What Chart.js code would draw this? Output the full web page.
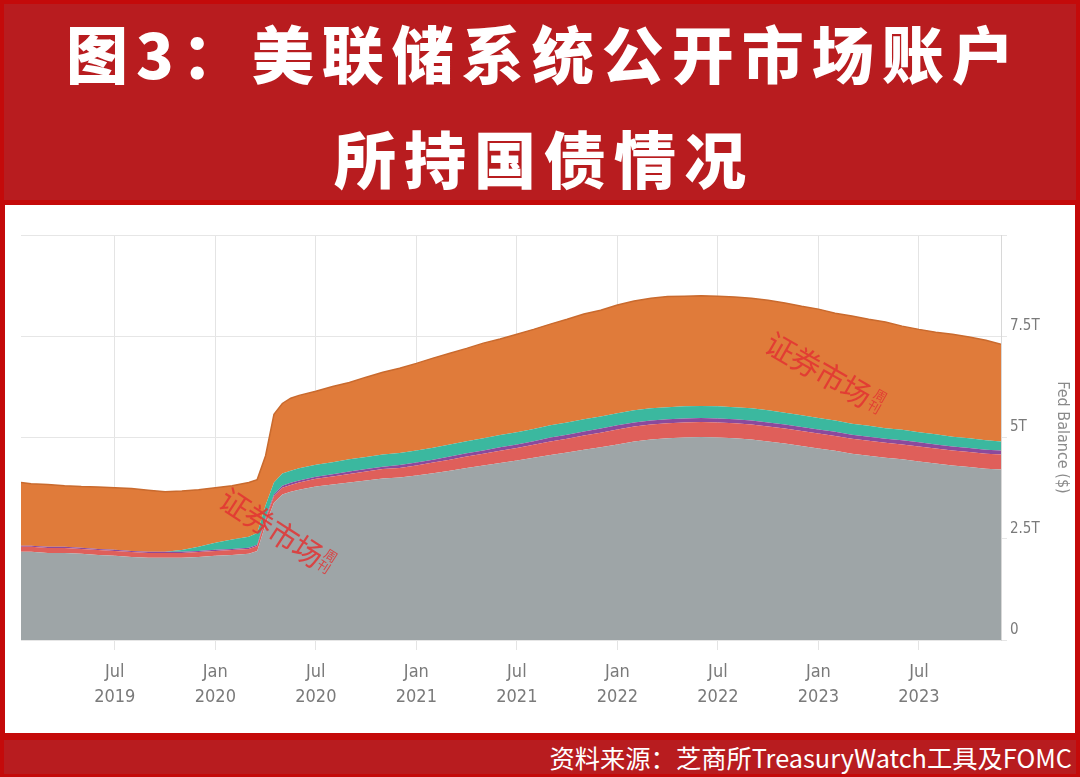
<!DOCTYPE html>
<html><head><meta charset="utf-8">
<script src="https://cdn.jsdelivr.net/npm/chart.js@4"></script>
<style>
html,body{margin:0;padding:0;}
body{width:1080px;height:777px;background:#c40a0a;position:relative;overflow:hidden;font-family:"Noto Sans CJK SC",sans-serif;}
#titlebox{position:absolute;left:4px;top:4px;width:1072px;height:196px;background:#b81c1f;}
.tl{position:absolute;left:0;width:1072px;padding-left:8px;box-sizing:border-box;text-align:center;color:#fff;font-weight:900;font-size:62px;line-height:62px;letter-spacing:8px;white-space:nowrap;}
#panel{position:absolute;left:5px;top:205px;width:1070px;height:528px;background:#fff;}
#footer{position:absolute;left:4px;top:740px;width:1072px;height:34px;background:#b81c1f;}
#src{position:absolute;right:4px;top:0;line-height:34px;color:#fff;font-size:25.3px;white-space:nowrap;}
.wm{position:absolute;color:rgba(226,50,50,0.85);font-size:30px;line-height:34px;width:124px;height:34px;text-align:center;white-space:nowrap;pointer-events:none;letter-spacing:-1px;}
.wm2{position:absolute;color:rgba(226,50,50,0.85);font-size:13px;line-height:13px;width:14px;pointer-events:none;}
</style>
</head><body>
<div id="titlebox">
  <div class="tl" style="top:17px;">图3：美联储系统公开市场账户</div>
  <div class="tl" style="top:122px;">所持国债情况</div>
</div>
<div id="panel"><canvas id="c" width="1070" height="528"></canvas></div>
<div id="footer"><div id="src">资料来源：芝商所TreasuryWatch工具及FOMC</div></div>
<div class="wm" style="left:210px;top:509px;transform:rotate(33deg);">证券市场</div>
<div class="wm2" style="left:321px;top:548px;transform:rotate(33deg);">周刊</div>
<div class="wm" style="left:757px;top:351px;transform:rotate(30deg);">证券市场</div>
<div class="wm2" style="left:871px;top:388px;transform:rotate(30deg);">周刊</div>
<script>
// x = months since Jan 2019
const months = [0.4,1,2,3,4,5,6,7,8,9,10,11,12,13,14,14.5,15,15.5,16,16.5,17,
  18,19,20,21,22,23,24,25,26,27,28,29,30,31,32,33,34,35,36,37,38,39,40,41,42,43,44,45,46,47,48,49,50,51,52,53,54,55,56,57,58,58.9];
// Treasury notes & bonds (T$)
const notesBonds = [2.18,2.18,2.15,2.15,2.13,2.10,2.08,2.05,2.03,2.03,2.03,2.05,2.08,2.10,2.13,2.20,2.85,3.39,3.59,3.66,3.71,
  3.79,3.84,3.89,3.94,3.99,4.01,4.06,4.12,4.18,4.25,4.31,4.37,4.43,4.50,4.57,4.63,4.70,4.76,4.83,4.90,4.95,4.98,5.00,5.01,5.00,4.98,4.95,4.90,4.85,4.79,4.73,4.67,4.60,4.55,4.50,4.46,4.41,4.36,4.31,4.27,4.23,4.21];
// TIPS (T$)
const tips = [0.12,0.12,0.12,0.12,0.12,0.12,0.12,0.12,0.12,0.12,0.12,0.12,0.12,0.12,0.12,0.12,0.14,0.16,0.17,0.17,0.18,
  0.19,0.20,0.21,0.22,0.23,0.24,0.25,0.26,0.27,0.28,0.29,0.30,0.31,0.32,0.33,0.34,0.35,0.36,0.37,0.37,0.37,0.37,0.37,0.37,0.37,0.37,0.37,0.37,0.37,0.37,0.37,0.37,0.37,0.37,0.37,0.37,0.37,0.37,0.37,0.37,0.37,0.37];
// TIPS inflation compensation (T$)
const tipsComp = [0.03,0.03,0.03,0.03,0.03,0.03,0.03,0.03,0.03,0.03,0.03,0.03,0.03,0.03,0.03,0.03,0.04,0.04,0.05,0.05,0.05,
  0.05,0.05,0.06,0.06,0.06,0.07,0.07,0.07,0.08,0.08,0.08,0.09,0.09,0.09,0.10,0.10,0.10,0.10,0.10,0.10,0.10,0.10,0.10,0.10,0.10,0.10,0.10,0.10,0.10,0.10,0.10,0.10,0.10,0.10,0.10,0.10,0.10,0.10,0.10,0.10,0.10,0.10];
// Treasury bills (T$)
const bills = [0,0,0,0,0,0,0,0,0,0,0.04,0.10,0.17,0.23,0.27,0.29,0.30,0.30,0.30,0.30,0.30,
  0.30,0.30,0.30,0.30,0.30,0.30,0.30,0.30,0.30,0.30,0.30,0.30,0.30,0.30,0.30,0.30,0.30,0.30,0.30,0.30,0.30,0.30,0.30,0.30,0.30,0.30,0.30,0.30,0.29,0.29,0.28,0.28,0.27,0.27,0.26,0.26,0.25,0.25,0.24,0.24,0.23,0.22];
// Total SOMA holdings (T$) - top of the orange (MBS) band
const total = [3.89,3.86,3.84,3.81,3.79,3.78,3.76,3.74,3.70,3.66,3.68,3.71,3.76,3.81,3.89,3.96,4.55,5.57,5.84,5.97,6.04,
  6.14,6.26,6.36,6.49,6.61,6.71,6.83,6.96,7.08,7.20,7.33,7.43,7.55,7.67,7.80,7.92,8.05,8.14,8.27,8.37,8.44,8.48,8.49,8.50,8.49,8.47,8.44,8.39,8.32,8.24,8.17,8.07,8.00,7.92,7.85,7.75,7.67,7.60,7.55,7.48,7.40,7.30];

const tickMonths = [6,12,18,24,30,36,42,48,54];
const tickLabels = [["Jul","2019"],["Jan","2020"],["Jul","2020"],["Jan","2021"],["Jul","2021"],["Jan","2022"],["Jul","2022"],["Jan","2023"],["Jul","2023"]];
const yTickValues = [0,2.5,5,7.5,10];
const yTickLabels = ["0","2.5T","5T","7.5T",""];

const pts = arr => months.map((m,i)=>({x:m,y:arr[i]}));
const base = {pointRadius:0, borderWidth:0, tension:0};
const narrow = "'Liberation Sans Narrow','DejaVu Sans Condensed',sans-serif";

new Chart(document.getElementById('c'), {
  type:'line',
  data:{datasets:[
    Object.assign({label:'Notes & Bonds', data:pts(notesBonds), backgroundColor:'#9ea5a7', fill:'origin', stack:'soma'}, base),
    Object.assign({label:'TIPS', data:pts(tips), backgroundColor:'#df5f5a', fill:'-1', stack:'soma'}, base),
    Object.assign({label:'TIPS Inflation Comp.', data:pts(tipsComp), backgroundColor:'#8b4a9c', fill:'-1', stack:'soma'}, base),
    Object.assign({label:'Bills', data:pts(bills), backgroundColor:'#3bb89f', fill:'-1', stack:'soma'}, base),
    {label:'Total', data:pts(total), backgroundColor:'#e07b3a', borderColor:'#c96a2e', borderWidth:1.5, pointRadius:0, tension:0, fill:'-1', stack:'total'}
  ]},
  options:{
    responsive:false, animation:false,
    layout:{padding:{left:16, top:30, right:0, bottom:0}},
    plugins:{legend:{display:false}, tooltip:{enabled:false}},
    scales:{
      x:{type:'linear', min:0.4, max:58.9,
        afterBuildTicks:a=>{a.ticks=tickMonths.map(v=>({value:v}));},
        ticks:{callback:(v,i)=>tickLabels[i], color:'#7a7a7a', font:{family:narrow,size:18,lineHeight:1.4}, padding:10, maxRotation:0, autoSkip:false},
        grid:{color:'#e4e4e4', tickLength:10},
        border:{display:false},
        afterFit:a=>{a.height=93;}
      },
      y:{position:'right', stacked:true, min:0, max:10,
        afterBuildTicks:a=>{a.ticks=yTickValues.map(v=>({value:v}));},
        ticks:{callback:(v,i)=>yTickLabels[i], color:'#7a7a7a', font:{family:narrow,size:15}, padding:3, labelOffset:-10},
        grid:{color:'#e6e6e6', tickLength:6},
        border:{display:true, color:'#d8d8d8'},
        title:{display:true, text:'Fed Balance ($)', color:'#8a8a8a', font:{family:narrow,size:16}, padding:{top:3,bottom:0}},
        afterFit:a=>{a.width=74;}
      }
    }
  }
});
</script>
</body></html>
